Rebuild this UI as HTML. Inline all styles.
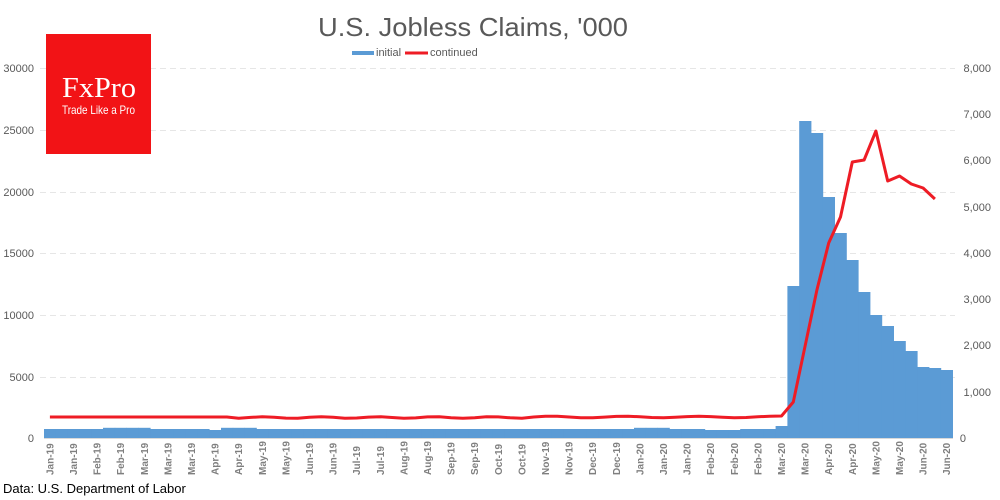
<!DOCTYPE html>
<html><head><meta charset="utf-8"><style>
html,body{margin:0;padding:0;background:#fff;}
svg{display:block;font-family:"Liberation Sans",sans-serif;}
</style></head><body>
<svg id="c" width="1000" height="500" viewBox="0 0 1000 500" xmlns="http://www.w3.org/2000/svg">
<rect width="1000" height="500" fill="#fff"/>
<g stroke="#e6e6e6" stroke-dasharray="6,4" stroke-width="1">
<line x1="40" y1="68.5" x2="955" y2="68.5"/>
<line x1="40" y1="130.5" x2="955" y2="130.5"/>
<line x1="40" y1="192.5" x2="955" y2="192.5"/>
<line x1="40" y1="253.5" x2="955" y2="253.5"/>
<line x1="40" y1="315.5" x2="955" y2="315.5"/>
<line x1="40" y1="377.5" x2="955" y2="377.5"/>
</g>
<g id="bars" fill="#5b9bd5"></g>
<line x1="44" y1="438.5" x2="953" y2="438.5" stroke="#d9d9d9"/>
<polyline id="line" fill="none" stroke="#ee1c25" stroke-width="3" stroke-linejoin="round"/>
<g font-size="11" fill="#595959" text-anchor="end">
<text x="34" y="72">30000</text><text x="34" y="134">25000</text><text x="34" y="196">20000</text>
<text x="34" y="257">15000</text><text x="34" y="319">10000</text><text x="34" y="381">5000</text><text x="34" y="442">0</text>
</g>
<g font-size="11" fill="#595959" text-anchor="end">
<text x="991" y="72">8,000</text><text x="991" y="118">7,000</text><text x="991" y="164">6,000</text>
<text x="991" y="211">5,000</text><text x="991" y="257">4,000</text><text x="991" y="303">3,000</text>
<text x="991" y="349">2,000</text><text x="991" y="396">1,000</text><text x="966" y="442">0</text>
</g>
<g id="xl" font-size="10" font-weight="bold" fill="#7f7f7f"></g>
<text x="318" y="36" font-size="26" fill="#595959" textLength="310" lengthAdjust="spacingAndGlyphs">U.S. Jobless Claims, '000</text>
<rect x="352" y="51" width="22" height="4" fill="#5b9bd5"/>
<text x="376" y="56" font-size="11" fill="#595959">initial</text>
<line x1="405" y1="53" x2="428" y2="53" stroke="#ee1c25" stroke-width="3"/>
<text x="430" y="56" font-size="11" fill="#595959">continued</text>
<rect x="46" y="34" width="105" height="120" fill="#f21316"/>
<text x="62" y="97" font-family="Liberation Serif,serif" font-size="29" fill="#fff" textLength="74" lengthAdjust="spacingAndGlyphs">FxPro</text>
<text x="62" y="114" font-size="12" fill="#fff" textLength="73" lengthAdjust="spacingAndGlyphs">Trade Like a Pro</text>
<text x="3" y="493" font-size="13" fill="#000">Data: U.S. Department of Labor</text>
</svg>
<script>
var ns="http://www.w3.org/2000/svg";
var tops=[];
for(var i=0;i<62;i++){var t=429;if(i>=5&&i<=8)t=427.8;if(i==14)t=430;if(i>=15&&i<=17)t=427.8;if(i>=50&&i<=52)t=427.8;if(i>=56&&i<=58)t=430;tops.push(t);}
tops=tops.concat([426,286,121,133,197,233,260,292,315,326,341,351,367,368,370]);
var g=document.getElementById("bars");
for(var i=0;i<77;i++){var r=document.createElementNS(ns,"rect");var x=44+i*11.8;
r.setAttribute("x",x);r.setAttribute("y",tops[i]);r.setAttribute("width",12.2);r.setAttribute("height",438-tops[i]);g.appendChild(r);}
var ly=[];
for(var i=0;i<62;i++){var y=417;if(i>=16&&i<=40)y=417.5+Math.sin(i*1.3)*0.8;if(i>=42)y=417+Math.sin(i)*0.8;ly.push(y);}
ly=ly.concat([416,402,346,290,243,217,162,160,131,181,176,184,188,199]);
var pts=[];for(var i=0;i<ly.length;i++){pts.push((44+5.9+i*11.8).toFixed(1)+","+ly[i].toFixed(1));}
document.getElementById("line").setAttribute("points",pts.join(" "));
var labs=["Jan-19","Jan-19","Feb-19","Feb-19","Mar-19","Mar-19","Mar-19","Apr-19","Apr-19","May-19","May-19","Jun-19","Jun-19","Jul-19","Jul-19","Aug-19","Aug-19","Sep-19","Sep-19","Oct-19","Oct-19","Nov-19","Nov-19","Dec-19","Dec-19","Jan-20","Jan-20","Jan-20","Feb-20","Feb-20","Feb-20","Mar-20","Mar-20","Apr-20","Apr-20","May-20","May-20","Jun-20","Jun-20"];
var xl=document.getElementById("xl");
for(var k=0;k<39;k++){var x=44+5.9+k*2*11.8+3.5;var t=document.createElementNS(ns,"text");
t.setAttribute("transform","translate("+x+",475) rotate(-90)");t.textContent=labs[k];xl.appendChild(t);}
</script>
</body></html>
